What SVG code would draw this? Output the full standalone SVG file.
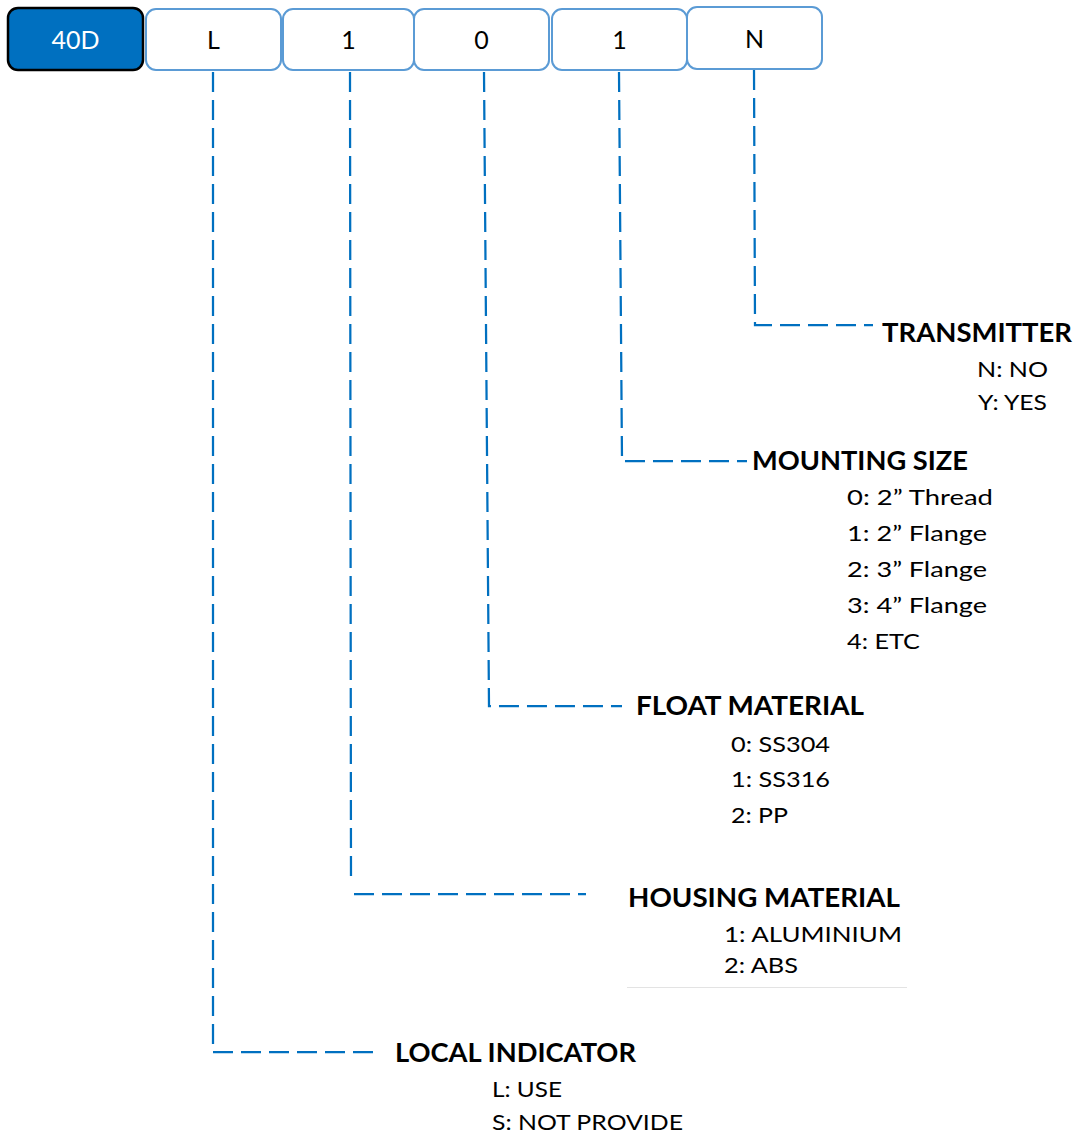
<svg xmlns="http://www.w3.org/2000/svg" width="1078" height="1134" viewBox="0 0 1078 1134">
<style>
.box{fill:#ffffff;stroke:#5B9BD5;stroke-width:2}
.code{font-family:Lato,"Open Sans","Liberation Sans",sans-serif;font-size:25px;fill:#000;text-anchor:middle}
.conn{fill:none;stroke:#0070C0;stroke-width:2.25;stroke-dasharray:20 8}
.head{font-family:Lato,"Open Sans","Liberation Sans",sans-serif;font-size:27px;font-weight:bold;fill:#000}
.item{font-family:Lato,"Open Sans","Liberation Sans",sans-serif;font-size:22px;fill:#000}
</style>
<rect width="1078" height="1134" fill="#ffffff"/>
<g id="connectors">
<polyline class="conn" points="213,72 213,1052 374,1052"/>
<polyline class="conn" points="350,72 351,883"/>
<line class="conn" x1="354" y1="894" x2="586" y2="894"/>
<polyline class="conn" points="484,72 489,706 622,706"/>
<polyline class="conn" points="619,72 622,461 747,461"/>
<polyline class="conn" points="754,70 755,325 873,325"/>
</g>
<g id="box-40D"><rect x="8" y="8" width="135" height="62" rx="10" fill="#0070C0" stroke="#000" stroke-width="2.5"/><text class="code" x="75.5" y="49" style="fill:#fff">40D</text></g>
<g id="box-L"><rect class="box" x="146" y="9" width="135" height="61" rx="10"/><text class="code" x="213.5" y="49">L</text></g>
<g id="box-1a"><rect class="box" x="283" y="9" width="131" height="61" rx="10"/><text class="code" x="348.5" y="49">1</text></g>
<g id="box-0"><rect class="box" x="414" y="9" width="135" height="61" rx="10"/><text class="code" x="481.5" y="49">0</text></g>
<g id="box-1b"><rect class="box" x="552" y="9" width="135" height="61" rx="10"/><text class="code" x="619.5" y="49">1</text></g>
<g id="box-N"><rect class="box" x="687" y="7" width="135" height="62" rx="10"/><text class="code" x="754.5" y="48">N</text></g>
<g id="transmitter">
<text class="head" x="882" y="341.5" textLength="190" lengthAdjust="spacingAndGlyphs">TRANSMITTER</text>
<text class="item" x="977" y="377" textLength="71" lengthAdjust="spacingAndGlyphs">N: NO</text>
<text class="item" x="978" y="410" textLength="69" lengthAdjust="spacingAndGlyphs">Y: YES</text>
</g>
<g id="mounting-size">
<text class="head" x="752" y="469.5" textLength="216" lengthAdjust="spacingAndGlyphs">MOUNTING SIZE</text>
<text class="item" x="847" y="505" textLength="146" lengthAdjust="spacingAndGlyphs">0: 2” Thread</text>
<text class="item" x="847" y="541" textLength="140" lengthAdjust="spacingAndGlyphs">1: 2” Flange</text>
<text class="item" x="847" y="577" textLength="140" lengthAdjust="spacingAndGlyphs">2: 3” Flange</text>
<text class="item" x="847" y="613" textLength="140" lengthAdjust="spacingAndGlyphs">3: 4” Flange</text>
<text class="item" x="847" y="649" textLength="73" lengthAdjust="spacingAndGlyphs">4: ETC</text>
</g>
<g id="float-material">
<text class="head" x="636" y="715" textLength="228" lengthAdjust="spacingAndGlyphs">FLOAT MATERIAL</text>
<text class="item" x="731" y="752" textLength="99" lengthAdjust="spacingAndGlyphs">0: SS304</text>
<text class="item" x="731" y="787" textLength="99" lengthAdjust="spacingAndGlyphs">1: SS316</text>
<text class="item" x="731" y="823" textLength="57" lengthAdjust="spacingAndGlyphs">2: PP</text>
</g>
<g id="housing-material">
<text class="head" x="628" y="907" textLength="272" lengthAdjust="spacingAndGlyphs">HOUSING MATERIAL</text>
<text class="item" x="724" y="942" textLength="178" lengthAdjust="spacingAndGlyphs">1: ALUMINIUM</text>
<text class="item" x="724" y="973" textLength="74" lengthAdjust="spacingAndGlyphs">2: ABS</text>
<line x1="627" y1="987.5" x2="907" y2="987.5" stroke="#e3e3e3" stroke-width="1"/>
</g>
<g id="local-indicator">
<text class="head" x="395" y="1061.5" textLength="241" lengthAdjust="spacingAndGlyphs">LOCAL INDICATOR</text>
<text class="item" x="492" y="1097" textLength="70" lengthAdjust="spacingAndGlyphs">L: USE</text>
<text class="item" x="492" y="1130" textLength="191" lengthAdjust="spacingAndGlyphs">S: NOT PROVIDE</text>
</g>
</svg>
